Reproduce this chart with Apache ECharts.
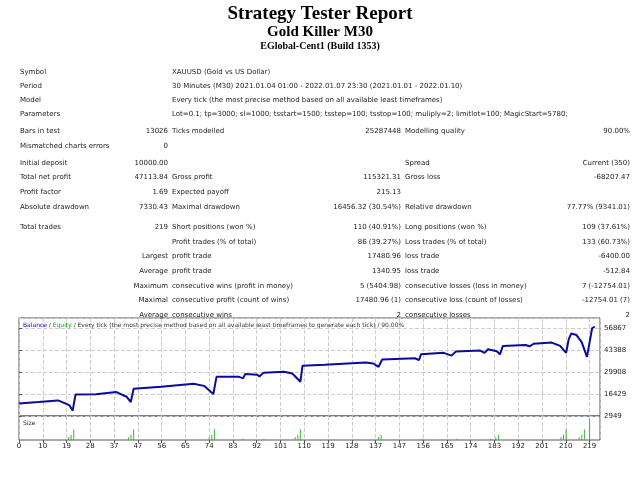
<!DOCTYPE html>
<html>
<head>
<meta charset="utf-8">
<script src="https://cdn.jsdelivr.net/npm/echarts@6/dist/echarts.min.js"></script>
<style>html,body{margin:0;background:#fff}#main{width:640px;height:480px}</style>
</head>
<body>
<div id="main"></div>
<script>
// header rows: label, value
var headerRows = [
    ['Symbol', 'XAUUSD (Gold vs US Dollar)'],
    ['Period', '30 Minutes (M30) 2021.01.04 01:00 - 2022.01.07 23:30 (2021.01.01 - 2022.01.10)'],
    ['Model', 'Every tick (the most precise method based on all available least timeframes)'],
    ['Parameters', 'Lot=0.1; tp=3000; sl=1000; tsstart=1500; tsstep=100; tsstop=100; muliply=2; limitlot=100; MagicStart=5780;']
];
// stat rows: 6 columns
var statRows = [
    ['Bars in test', '13026', 'Ticks modelled', '25287448', 'Modelling quality', '90.00%'],
    ['Mismatched charts errors', '0', '', '', '', ''],
    ['Initial deposit', '10000.00', '', '', 'Spread', 'Current (350)'],
    ['Total net profit', '47113.84', 'Gross profit', '115321.31', 'Gross loss', '-68207.47'],
    ['Profit factor', '1.69', 'Expected payoff', '215.13', '', ''],
    ['Absolute drawdown', '7330.43', 'Maximal drawdown', '16456.32 (30.54%)', 'Relative drawdown', '77.77% (9341.01)'],
    ['Total trades', '219', 'Short positions (won %)', '110 (40.91%)', 'Long positions (won %)', '109 (37.61%)'],
    ['', '', 'Profit trades (% of total)', '86 (39.27%)', 'Loss trades (% of total)', '133 (60.73%)'],
    ['', 'Largest', 'profit trade', '17480.96', 'loss trade', '-6400.00'],
    ['', 'Average', 'profit trade', '1340.95', 'loss trade', '-512.84'],
    ['', 'Maximum', 'consecutive wins (profit in money)', '5 (5404.98)', 'consecutive losses (loss in money)', '7 (-12754.01)'],
    ['', 'Maximal', 'consecutive profit (count of wins)', '17480.96 (1)', 'consecutive loss (count of losses)', '-12754.01 (7)'],
    ['', 'Average', 'consecutive wins', '2', 'consecutive losses', '2']
];
// balance curve: [trade number, balance]
var balance = [
    [0, 10670], [7.5, 11480], [15, 12500], [19.3, 9650], [20.6, 6200], [21.7, 16150],
    [29.5, 16300], [37.4, 17600], [41.3, 14740], [42.9, 11480], [44, 19600],
    [54.6, 20800], [67, 22650], [71, 21400], [74.6, 16350], [75.8, 26900],
    [84.5, 26900], [86, 26000], [86.8, 28600], [91.5, 28200], [92.3, 27200],
    [93.9, 29500], [101.7, 30000], [104.9, 29000], [108, 23900], [108.8, 33700],
    [117.4, 34300], [133, 35700], [136, 35100], [138, 33000], [139.4, 37500],
    [152, 38300], [153.5, 37100], [154.3, 40700], [163, 41600], [166, 39900],
    [167.7, 42400], [177, 43000], [178.7, 41600], [180, 43800], [183.4, 42600],
    [184.6, 40700], [185.7, 45800], [194.4, 46400], [196, 45600], [197.5, 47200],
    [204.5, 47900], [207.7, 45900], [210, 41600], [211, 50000], [212, 53500],
    [214, 52500], [216, 48000], [218, 39100], [219, 48000], [220, 56800], [221, 57600]
];
// trade sizes (lots)
var sizes = [
    [19, 0.2], [20, 0.4], [21, 0.8], [42, 0.2], [43, 0.4], [44, 0.8],
    [73, 0.2], [74, 0.4], [75, 0.8], [86, 0.1], [94, 0.1],
    [106, 0.2], [107, 0.4], [108, 0.8], [138, 0.2], [139, 0.4],
    [155, 0.1], [168, 0.1], [181, 0.1], [183, 0.2], [184, 0.4],
    [208, 0.2], [209, 0.4], [210, 0.8], [215, 0.2], [216, 0.4], [217, 0.8], [219, 1.6]
];
var xTickLabels = ['0', '10', '19', '28', '37', '47', '56', '65', '74', '83', '92', '101', '110',
    '119', '128', '137', '147', '156', '165', '174', '183', '192', '201', '210', '219'];
var yTickLabels = ['2949', '16429', '29908', '43388', '56867'];

var font = 'DejaVu Sans';
var txt = [];
function t(x, y, s, align, opt) {
    var st = {text: s, x: x, y: y, textAlign: align || 'left', textVerticalAlign: 'middle',
        font: '7px "' + font + '"', fill: '#222'};
    for (var k in (opt || {})) st[k] = opt[k];
    txt.push({type: 'text', style: st, z: 10});
}
t(320, 14, 'Strategy Tester Report', 'center', {font: 'bold 19px "Liberation Serif"', fill: '#000'});
t(320, 32, 'Gold Killer M30', 'center', {font: 'bold 15px "Liberation Serif"', fill: '#000'});
t(320, 46, 'EGlobal-Cent1 (Build 1353)', 'center', {font: 'bold 10px "Liberation Serif"', fill: '#000'});

var headerY = [72, 86, 100, 114];
headerRows.forEach(function (r, i) {
    t(20, headerY[i], r[0]);
    t(172, headerY[i], r[1]);
});
var statY = [131, 146, 163, 177, 192, 207, 227, 242, 256, 271, 286, 300, 315];
var colX = [20, 168, 172, 401, 405, 630];
var colA = ['left', 'right', 'left', 'right', 'left', 'right'];
statRows.forEach(function (r, i) {
    r.forEach(function (c, j) { if (c) t(colX[j], statY[i], c, colA[j]); });
});
txt.push({type: 'text', z: 10, style: {x: 23, y: 325, textVerticalAlign: 'middle',
    text: '{b|Balance} / {g|Equity} / Every tick (the most precise method based on all available least timeframes to generate each tick) / 90.00%',
    font: '6px "' + font + '"', fill: '#333',
    rich: {b: {fill: '#0000cc', font: '6px "' + font + '"'}, g: {fill: '#00aa00', font: '6px "' + font + '"'}}}});
t(23, 423, 'Size', 'left', {font: '6px "' + font + '"'});

var step = 219 / 24;
var myChart = echarts.init(document.getElementById('main'));
var option = {
    backgroundColor: '#fff',
    animation: false,
    graphic: txt,
    grid: [
        {left: 19, right: 40, top: 318, height: 98, show: true, borderColor: '#555', borderWidth: 1},
        {left: 19, right: 40, top: 416, height: 24, show: true, borderColor: '#555', borderWidth: 1}
    ],
    xAxis: [0, 1].map(function (i) {
        return {
            type: 'value', gridIndex: i, min: 0, max: 223, interval: step,
            axisLine: {show: false}, axisTick: {show: i === 1, length: 3, lineStyle: {color: '#555'}},
            splitLine: {show: true, lineStyle: {type: 'dashed', color: '#ccc'}},
            axisLabel: {
                show: i === 1, fontSize: 7, fontFamily: font, color: '#222', margin: 3, showMaxLabel: false,
                formatter: function (v) { var k = Math.round(v / step); return xTickLabels[k] || ''; }
            }
        };
    }),
    yAxis: [
        {
            type: 'value', gridIndex: 0, position: 'right', min: 2949, max: 62940, interval: 13479.5,
            axisLine: {show: false}, axisTick: {show: true, length: 3, lineStyle: {color: '#555'}},
            splitLine: {lineStyle: {type: 'dashed', color: '#ccc'}},
            axisLabel: {
                fontSize: 7, fontFamily: font, color: '#222', margin: 4, showMaxLabel: false,
                formatter: function (v) { var k = Math.round((v - 2949) / 13479.5); return yTickLabels[k] || ''; }
            }
        },
        {
            type: 'value', gridIndex: 1, min: 0, max: 1.8,
            axisLine: {show: false}, axisTick: {show: false}, axisLabel: {show: false}, splitLine: {show: false}
        }
    ],
    series: [
        {
            type: 'line', xAxisIndex: 0, yAxisIndex: 0, data: balance, symbol: 'none',
            lineStyle: {color: '#0a0a9e', width: 2}
        },
        {
            type: 'bar', xAxisIndex: 1, yAxisIndex: 1, data: sizes, barWidth: 1,
            itemStyle: {color: '#33bb33'}
        }
    ]
};
myChart.setOption(option);
</script>
</body>
</html>
